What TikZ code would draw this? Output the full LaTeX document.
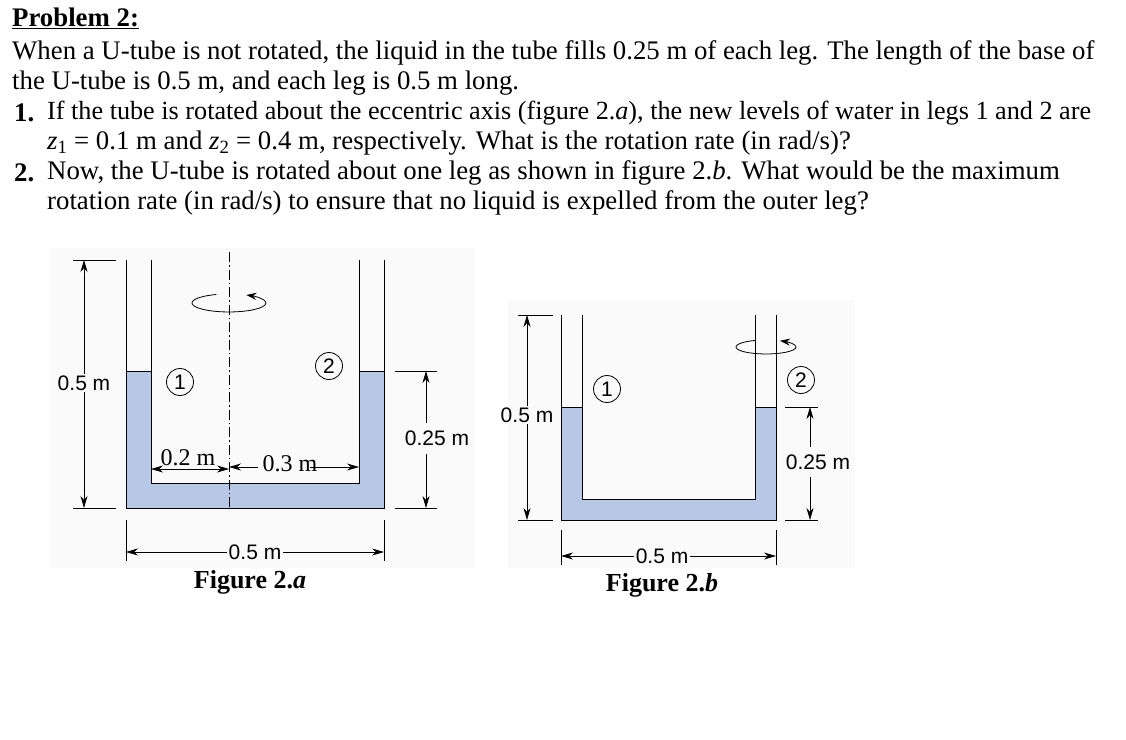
\documentclass[tikz,border=0pt]{standalone}
\usepackage{fontspec}
\setmainfont{Liberation Serif}
\newfontfamily\arialf{Liberation Sans}
\usetikzlibrary{arrows.meta}
\definecolor{liq}{RGB}{183,200,230}
\definecolor{bgg}{RGB}{250,250,250}
\tikzset{
 x=1pt,y=-1pt,
 txt/.style={anchor=west,inner sep=0,font=\fontsize{26.8}{30}\selectfont},
 lab/.style={inner sep=1.5pt,font=\arialf\fontsize{21}{23}\selectfont},
 figcap/.style={inner sep=0,font=\bfseries\fontsize{26}{30}\selectfont},
 tube/.style={line width=1pt},
 dim/.style={line width=0.7pt},
 dimar/.style={line width=0.7pt,-{Stealth[length=12pt,width=7pt]}},
 num/.style={circle,draw,line width=0.8pt,inner sep=1.5pt,minimum size=27pt,font=\arialf\fontsize{21}{22}\selectfont},
 rot/.style={line width=0.8pt,-{Stealth[length=10pt,width=7pt]}},
}
\newcommand{\zsub}[1]{\textit{z}\textsubscript{#1}}
\begin{document}
\begin{tikzpicture}
\useasboundingbox (0,0) rectangle (1126,739);
% texts
\node[txt,font=\bfseries\fontsize{26.8}{30}\selectfont] (t0) at (12,18) {\underline{Problem 2:}};
\node[txt] (t1) at (12,53) {When a U-tube is not rotated, the liquid in the tube fills 0.25 m of each leg. The length of the base of};
\node[txt] (t2) at (12,83) {the U-tube is 0.5 m, and each leg is 0.5 m long.};
\node[txt,font=\bfseries\fontsize{26.8}{30}\selectfont] (n1) at (14,113) {1.};
\node[txt,font=\fontsize{26.2}{30}\selectfont] (t3) at (47,113) {If the tube is rotated about the eccentric axis (figure 2.\textit{a}), the new levels of water in legs 1 and 2 are};
\node[txt] (t4) at (47,143) {\zsub{1} = 0.1 m and \zsub{2} = 0.4 m, respectively. What is the rotation rate (in rad/s)?};
\node[txt,font=\bfseries\fontsize{26.8}{30}\selectfont] (n2) at (14,173) {2.};
\node[txt] (t5) at (47,173) {Now, the U-tube is rotated about one leg as shown in figure 2.\textit{b}. What would be the maximum};
\node[txt] (t6) at (47,203) {rotation rate (in rad/s) to ensure that no liquid is expelled from the outer leg?};
% backgrounds
\fill[bgg] (50,248) rectangle (475,568);
\fill[bgg] (508,300) rectangle (855,568);
% ---------- Figure 2.a
\fill[liq] (126,371) -- (151,371) -- (151,483) -- (359,483) -- (359,371) -- (384,371) -- (384,508) -- (126,508) -- cycle;
\draw[tube] (126,260) -- (126,508) -- (384,508) -- (384,260);
\draw[tube] (151,260) -- (151,483) -- (359,483) -- (359,260);
\draw[tube] (126,371) -- (151,371) (359,371) -- (384,371);
\draw[line width=0.8pt,dash pattern=on 10pt off 3pt on 1.5pt off 3pt] (229,252) -- (229,508);
\draw[rot] (216.3,294.5) arc[start angle=250,end angle=-62,x radius=37,y radius=9];
\node[num] (c1) at (180,382) {1};
\node[num] (c2) at (329,366) {2};
% left dim
\draw[dim] (73,260) -- (116,260) (73,508) -- (116,508);
\node[lab] (la) at (84,383) {0.5 m};
\draw[dimar] (la) -- (84,260);
\draw[dimar] (la) -- (84,508);
% right dim
\draw[dim] (395,371) -- (437,371) (395,508) -- (437,508);
\node[lab] (lb) at (437,438) {0.25 m};
\draw[dimar] (426,423) -- (426,371);
\draw[dimar] (426,454) -- (426,508);
% bottom dim
\draw[dim] (126,520) -- (126,561) (384,520) -- (384,561);
\node[lab] (lc) at (255,552) {0.5 m};
\draw[dimar] (lc) -- (126,552);
\draw[dimar] (lc) -- (384,552);
% inner dims
\node[inner sep=0,font=\fontsize{24}{26}\selectfont] (ld) at (188,458) {0.2 m};
\node[inner sep=0,font=\fontsize{24}{26}\selectfont] (le) at (290,464) {0.3 m};
\coordinate (m1) at (190,469);
\draw[dimar] (m1) -- (151,469);
\draw[dimar] (m1) -- (229,469);
\draw[dimar] (258,467) -- (229,467);
\draw[dimar] (310,467) -- (359,467);
\node[figcap] (f1) at (250,582) {Figure 2.\textit{a}};
% ---------- Figure 2.b
\fill[liq] (561,407) -- (582,407) -- (582,499) -- (755,499) -- (755,407) -- (776,407) -- (776,520) -- (561,520) -- cycle;
\draw[tube] (561,315) -- (561,520) -- (776,520) -- (776,315);
\draw[tube] (582,315) -- (582,499) -- (755,499) -- (755,315);
\draw[tube] (561,407) -- (582,407) (755,407) -- (776,407);
\draw[rot] (755.7,340.4) arc[start angle=250,end angle=-62,x radius=30,y radius=7];
\node[num] (c3) at (607,389) {1};
\node[num] (c4) at (801,380) {2};
\draw[dim] (518,315) -- (553,315) (518,520) -- (553,520);
\node[lab] (lf) at (527,415) {0.5 m};
\draw[dimar] (lf) -- (527,315);
\draw[dimar] (lf) -- (527,520);
\draw[dim] (785,407) -- (818,407) (785,520) -- (818,520);
\node[lab] (lg) at (818,462) {0.25 m};
\draw[dimar] (810,447) -- (810,407);
\draw[dimar] (810,477) -- (810,520);
\draw[dim] (561,530) -- (561,565) (776,530) -- (776,565);
\node[lab] (lh) at (662,556) {0.5 m};
\draw[dimar] (lh) -- (561,556);
\draw[dimar] (lh) -- (776,556);
\node[figcap] (f2) at (662,585) {Figure 2.\textit{b}};
\end{tikzpicture}
\end{document}
